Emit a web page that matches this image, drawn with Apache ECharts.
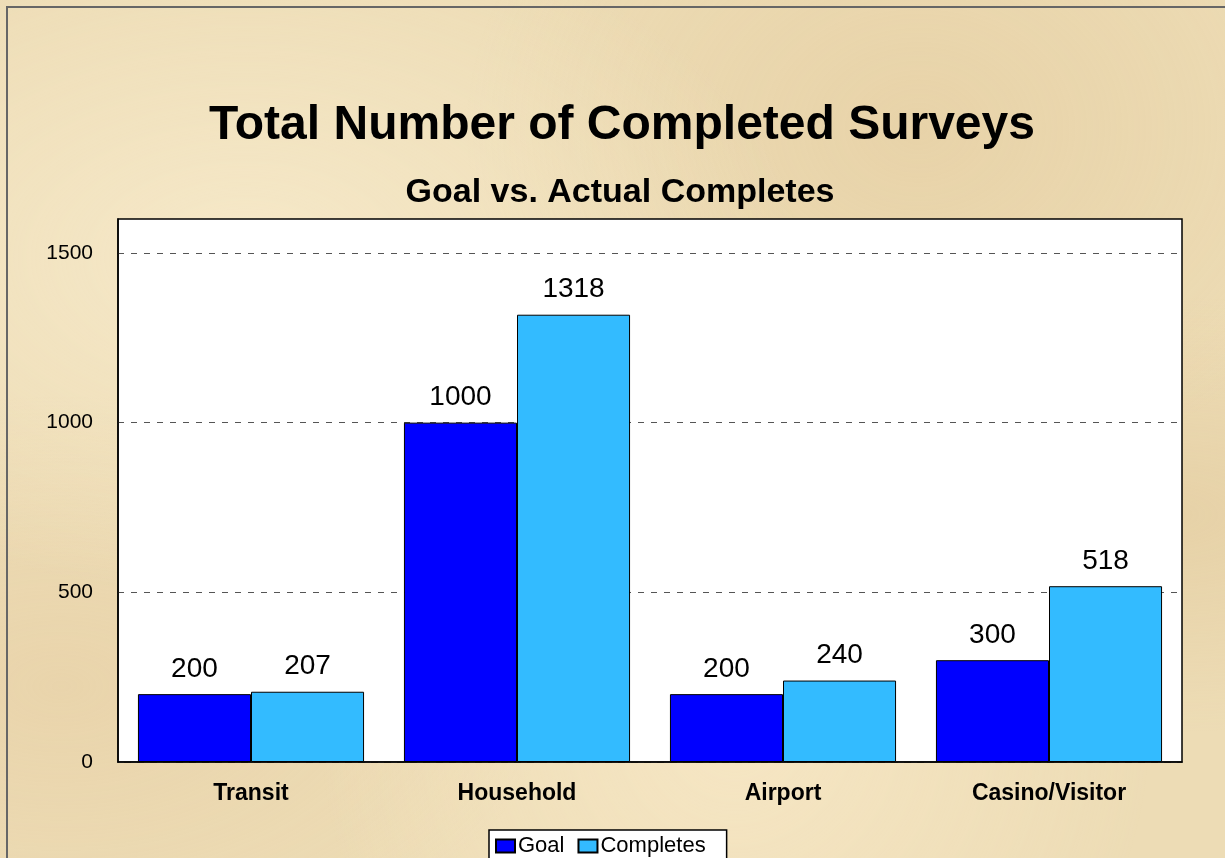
<!DOCTYPE html>
<html>
<head>
<meta charset="utf-8">
<script src="https://cdn.jsdelivr.net/npm/echarts@6/dist/echarts.min.js"></script>
<style>
  html, body { margin: 0; padding: 0; }
  body {
    width: 1225px; height: 858px; overflow: hidden;
    background-color: #eddcb5;
    background-image:
      radial-gradient(ellipse at 20% 30%, rgba(255,245,220,0.5), rgba(255,245,220,0) 40%),
      radial-gradient(ellipse at 75% 15%, rgba(220,190,140,0.3), rgba(220,190,140,0) 35%),
      radial-gradient(ellipse at 60% 85%, rgba(255,240,210,0.5), rgba(255,240,210,0) 40%),
      radial-gradient(ellipse at 5% 80%, rgba(225,195,150,0.3), rgba(225,195,150,0) 30%),
      radial-gradient(ellipse at 95% 60%, rgba(215,185,135,0.3), rgba(215,185,135,0) 30%);
  }
  #frame {
    position: absolute; left: 6px; top: 6px; width: 1225px; height: 858px;
    border-left: 2px solid #666; border-top: 2px solid #666;
  }
  #chart { position: absolute; left: 0; top: 0; width: 1225px; height: 858px; }
</style>
</head>
<body>
<div id="frame"></div>
<div id="chart"></div>
<script>
// data
const categories = ['Transit', 'Household', 'Airport', 'Casino/Visitor']
const goal = [200, 1000, 200, 300]
const completes = [207, 1318, 240, 518]

const font = '"Liberation Sans", Arial, sans-serif'

const chart = echarts.init(document.getElementById('chart'))
const barLabel = {
  show: true,
  position: 'top',
  distance: 11,
  color: '#000',
  fontSize: 28,
  fontFamily: font
}

chart.setOption({
  animation: false,
  title: [
    {
      text: 'Total Number of Completed Surveys',
      left: 617, top: 97, textAlign: 'center',
      textStyle: { fontFamily: font, fontSize: 48, fontWeight: 'bold', color: '#000' }
    },
    {
      text: 'Goal vs. Actual Completes',
      left: 615, top: 171, textAlign: 'center',
      textStyle: { fontFamily: font, fontSize: 34, fontWeight: 'bold', color: '#000' }
    }
  ],
  grid: {
    left: 118, right: 43, top: 219, bottom: 96,
    show: true, backgroundColor: '#fff', borderColor: '#000', borderWidth: 1.5
  },
  legend: {
    left: 489, top: 830,
    padding: [5, 21, 12, 6],
    backgroundColor: '#fff',
    borderColor: '#000', borderWidth: 1.5,
    icon: 'rect',
    itemWidth: 19, itemHeight: 13, itemGap: 13,
    textStyle: { fontFamily: font, fontSize: 22, color: '#000', padding: [0, 0, 0, -2] },
    data: ['Goal', 'Completes']
  },
  xAxis: {
    type: 'category',
    data: categories,
    axisLine: { lineStyle: { color: '#000', width: 1.5 } },
    axisTick: { show: false },
    axisLabel: { margin: 20, fontFamily: font, fontSize: 23, fontWeight: 'bold', color: '#000' }
  },
  yAxis: {
    type: 'value',
    min: 0, max: 1600, interval: 500,
    axisLine: { show: true, lineStyle: { color: '#000', width: 1.5 } },
    axisTick: { show: false },
    axisLabel: {
      margin: 25, fontFamily: font, fontSize: 21, color: '#000',
      formatter: v => (v > 1500 ? '' : v)
    },
    splitLine: { showMaxLine: false, lineStyle: { color: '#555', type: [6, 7], width: 1 } }
  },
  series: [
    {
      name: 'Goal', type: 'bar', data: goal,
      barGap: '0%', barCategoryGap: '15%',
      itemStyle: { color: '#0000ff', borderColor: '#000', borderWidth: 1 },
      label: barLabel
    },
    {
      name: 'Completes', type: 'bar', data: completes,
      itemStyle: { color: '#33bbff', borderColor: '#000', borderWidth: 1 },
      label: barLabel
    }
  ]
})
</script>
</body>
</html>
